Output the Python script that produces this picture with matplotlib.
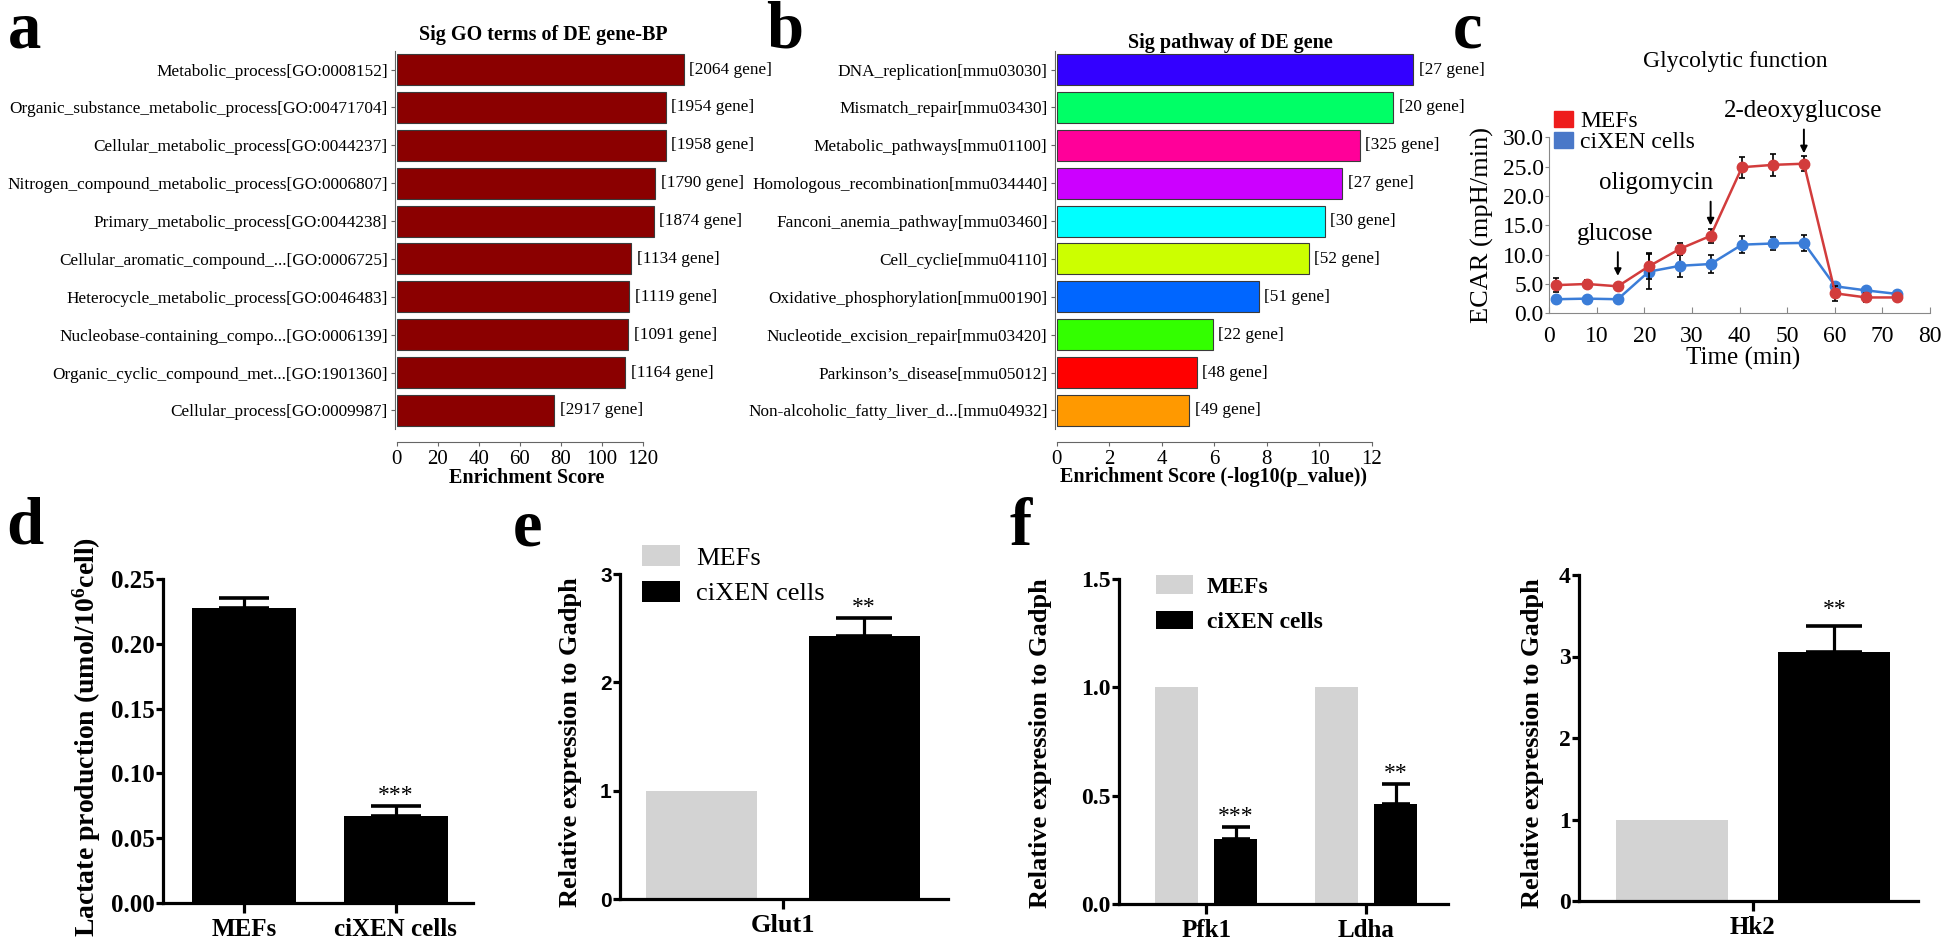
import matplotlib
matplotlib.use('Agg')
import matplotlib.pyplot as plt
from matplotlib.patches import Patch

plt.rcParams['font.family'] = ['Liberation Serif', 'DejaVu Serif']
plt.rcParams['mathtext.fontset'] = 'custom'
plt.rcParams['mathtext.rm'] = 'Liberation Serif'
plt.rcParams['mathtext.bf'] = 'Liberation Serif:bold'
SANS = ['Liberation Sans', 'DejaVu Sans']

# ---------------- data ----------------
go_terms = ["Metabolic_process[GO:0008152]",
            "Organic_substance_metabolic_process[GO:00471704]",
            "Cellular_metabolic_process[GO:0044237]",
            "Nitrogen_compound_metabolic_process[GO:0006807]",
            "Primary_metabolic_process[GO:0044238]",
            "Cellular_aromatic_compound_...[GO:0006725]",
            "Heterocycle_metabolic_process[GO:0046483]",
            "Nucleobase-containing_compo...[GO:0006139]",
            "Organic_cyclic_compound_met...[GO:1901360]",
            "Cellular_process[GO:0009987]"]
go_scores = [140.1, 131.3, 131.3, 126.3, 125.5, 114.5, 113.5, 113.0, 111.5, 77.0]
go_genes = [2064, 1954, 1958, 1790, 1874, 1134, 1119, 1091, 1164, 2917]

kegg_terms = ["DNA_replication[mmu03030]",
              "Mismatch_repair[mmu03430]",
              "Metabolic_pathways[mmu01100]",
              "Homologous_recombination[mmu034440]",
              "Fanconi_anemia_pathway[mmu03460]",
              "Cell_cyclie[mmu04110]",
              "Oxidative_phosphorylation[mmu00190]",
              "Nucleotide_excision_repair[mmu03420]",
              "Parkinson\u2019s_disease[mmu05012]",
              "Non-alcoholic_fatty_liver_d...[mmu04932]"]
kegg_scores = [13.57, 12.81, 11.54, 10.87, 10.21, 9.60, 7.70, 5.95, 5.33, 5.05]
kegg_genes = [27, 20, 325, 27, 30, 52, 51, 22, 48, 49]
kegg_colors = ['#3300FF', '#00FF66', '#FF0099', '#CC00FF', '#00FFFF',
               '#CCFF00', '#0066FF', '#33FF00', '#FF0000', '#FF9900']

time_min = [1.4, 7.9, 14.4, 20.9, 27.5, 33.9, 40.5, 47.0, 53.5, 60.1, 66.6, 73.1]
mef_ecar = [4.8, 5.0, 4.6, 8.0, 11.0, 13.2, 24.9, 25.3, 25.5, 3.4, 2.7, 2.7]
mef_err = [1.2, 0.7, 0.6, 2.2, 1.0, 1.2, 1.8, 1.9, 1.3, 1.3, 0.7, 0.4]
xen_ecar = [2.4, 2.5, 2.4, 7.1, 8.1, 8.4, 11.7, 11.9, 12.0, 4.6, 3.9, 3.3]
xen_err = [0.5, 0.5, 0.5, 3.0, 1.9, 1.6, 1.4, 1.1, 1.3, 0.5, 0.4, 0.3]

groups = ["MEFs", "ciXEN cells"]
lactate = [0.228, 0.067]
lactate_err = [0.007, 0.008]

glut1 = [1.0, 2.43]
glut1_err = [0.0, 0.16]
f_genes = ["Pfk1", "Ldha"]
f_mef = [1.0, 1.0]
f_xen = [0.30, 0.46]
f_xen_err = [0.057, 0.095]
hk2 = [1.0, 3.05]
hk2_err = [0.0, 0.33]

GRAY = '#d3d3d3'

# ---------------- figure ----------------
W, H = 1946, 946
fig = plt.figure(figsize=(W / 100, H / 100), dpi=100)
fig.patch.set_facecolor('white')


def px_axes(l, t, r, b):
    return fig.add_axes([l / W, 1 - b / H, (r - l) / W, (b - t) / H])


def ftext(x, y, s, **kw):
    return fig.text(x / W, 1 - y / H, s, **kw)


# panel letters
for letter, (x, y) in {'a': (8, 47), 'b': (766, 47), 'c': (1453, 47),
                       'd': (6, 543), 'e': (513, 545), 'f': (1010, 545)}.items():
    ftext(x, y, letter, fontsize=48, fontweight='bold', ha='left', va='baseline')


# ---------------- panels a & b ----------------
def enrich_panel(l, r, xmax, terms, scores, genes, colors, tickmax, tickstep,
                 title, title_xy, xlabel, xlabel_xy, spine_out):
    ax = px_axes(l, 50.6, r, 429.4)
    ypos = list(range(len(terms)))
    ax.barh(ypos, scores, height=0.82, color=colors, edgecolor='#3a3a3a', linewidth=0.8)
    ax.set_xlim(0, xmax)
    ax.set_ylim(len(terms) - 0.5, -0.5)
    ax.set_yticks(ypos)
    ax.set_yticklabels(terms)
    for i, (s, g) in enumerate(zip(scores, genes)):
        ax.annotate(f"[{g} gene]", xy=(s, i), xytext=(4, 0), textcoords='offset points',
                    va='center', ha='left', fontsize=12.4)
    for sp in ['top', 'right']:
        ax.spines[sp].set_visible(False)
    ax.spines['left'].set_position(('outward', 1.5))
    ax.spines['left'].set_color('#666666')
    ax.spines['bottom'].set_color('#666666')
    ax.spines['bottom'].set_position(('outward', spine_out))
    ax.spines['bottom'].set_bounds(0, tickmax)
    ax.set_xticks(list(range(0, tickmax + 1, tickstep)))
    ax.tick_params(axis='y', length=3, pad=2, labelsize=12.4, color='#666666')
    ax.tick_params(axis='x', length=3, pad=3, labelsize=15, color='#666666')
    ftext(title_xy[0], title_xy[1], title, fontsize=14.5, fontweight='bold', ha='center', va='center')
    ftext(xlabel_xy[0], xlabel_xy[1], xlabel, fontsize=14.5, fontweight='bold', ha='center', va='center')
    return ax


enrich_panel(396.7, 704, 150, go_terms, go_scores, go_genes, '#8B0000', 120, 20,
             "Sig GO terms of DE gene-BP", (543, 35), "Enrichment Score", (527, 478), 9.0)
enrich_panel(1056.6, 1477, 16, kegg_terms, kegg_scores, kegg_genes, kegg_colors, 12, 2,
             "Sig pathway of DE gene", (1230, 43), "Enrichment Score (-log10(p_value))", (1214, 477), 9.0)

# ---------------- panel c ----------------
axc = px_axes(1549.3, 137.3, 1930, 313.3)
RED, BLUE = '#d23c3c', '#3b7dd8'
axc.errorbar(time_min, xen_ecar, yerr=xen_err, color=BLUE, lw=1.8, marker='o', ms=7.5,
             mec=BLUE, ecolor='black', elinewidth=1.2, capsize=2, capthick=1.2, zorder=3)
axc.errorbar(time_min, mef_ecar, yerr=mef_err, color=RED, lw=1.8, marker='o', ms=7.5,
             mec=RED, ecolor='black', elinewidth=1.2, capsize=2, capthick=1.2, zorder=4)
axc.set_xlim(0, 80)
axc.set_ylim(0, 30)
axc.set_xticks(list(range(0, 81, 10)))
axc.set_yticks([0, 5, 10, 15, 20, 25, 30])
axc.set_yticklabels([f"{v:.1f}" for v in [0, 5, 10, 15, 20, 25, 30]])
for sp in ['top', 'right']:
    axc.spines[sp].set_visible(False)
for sp in ['left', 'bottom']:
    axc.spines[sp].set_color('#888888')
axc.tick_params(axis='x', direction='in', length=4, pad=9, labelsize=17, color='#888888')
axc.tick_params(axis='y', direction='out', length=3, pad=1, labelsize=17, color='#888888')
ftext(1735, 62, "Glycolytic function", fontsize=17, ha='center', va='center')
ftext(1743, 358, "Time (min)", fontsize=18, ha='center', va='center')
ftext(1482, 225, "ECAR (mpH/min)", fontsize=19, ha='center', va='center', rotation=90)
axc.legend(handles=[Patch(color='#ee1c1c'), Patch(color='#4a78c8')], labels=groups,
           loc='upper left', bbox_to_anchor=(1554 / W, 1 - 111 / H), bbox_transform=fig.transFigure,
           frameon=False, fontsize=17, handlelength=0.8, handleheight=0.65, handletextpad=0.3,
           labelspacing=0.0, borderpad=0, borderaxespad=0)
arrow_kw = dict(arrowstyle='-|>', color='black', lw=1.4, mutation_scale=10)
for idx, name, tx in [(2, 'glucose', 13.8), (5, 'oligomycin', 22.4), (8, '2-deoxyglucose', 53.3)]:
    tip = mef_ecar[idx] + 1.3
    axc.annotate('', xy=(time_min[idx], tip), xytext=(time_min[idx], tip + 5.0),
                 arrowprops=arrow_kw, annotation_clip=False)
    axc.text(tx, tip + 7.7, name, fontsize=18, ha='center', va='center', clip_on=False)


# ---------------- panels d, e, f ----------------
def prism_axes(l, t, r, b):
    ax = px_axes(l, t, r, b)
    for sp in ['top', 'right']:
        ax.spines[sp].set_visible(False)
    for sp in ['left', 'bottom']:
        ax.spines[sp].set_linewidth(2.3)
    ax.tick_params(axis='y', direction='out', length=5, width=2.3, pad=1)
    ax.tick_params(axis='x', direction='out', length=7, width=2.3, pad=4)
    return ax


def bold_ticklabels(ax, size_y, size_x, yfamily=None):
    for lab in ax.get_yticklabels():
        lab.set_fontweight('bold')
        lab.set_fontsize(size_y)
        if yfamily:
            lab.set_family(yfamily)
    for lab in ax.get_xticklabels():
        lab.set_fontweight('bold')
        lab.set_fontsize(size_x)


def up_err(ax, x, y, e, cap):
    ax.errorbar([x], [y], yerr=[[0], [e]], fmt='none', ecolor='black', elinewidth=2.3,
                capsize=cap, capthick=2.6, zorder=1)


# d
axd = prism_axes(163, 579, 473, 903)
axd.bar([0, 1], lactate, width=0.686, color='black', zorder=2)
for i in range(2):
    up_err(axd, i, lactate[i], lactate_err[i], 18)
axd.set_xlim(-0.535, 1.51)
axd.set_ylim(0, 0.25)
axd.set_yticks([0, 0.05, 0.10, 0.15, 0.20, 0.25])
axd.set_yticklabels([f"{v:.2f}" for v in [0, 0.05, 0.10, 0.15, 0.20, 0.25]])
axd.set_xticks([0, 1])
axd.set_xticklabels(groups)
bold_ticklabels(axd, 18, 18)
axd.annotate('***', xy=(1, lactate[1] + lactate_err[1]), xytext=(0, 0), textcoords='offset points',
             ha='center', va='bottom', fontsize=17)
ftext(87, 737, r"Lactate production (umol/$\mathbf{10^{6}}$cell)", fontsize=20, fontweight='bold',
      rotation=90, ha='center', va='center')

# e
axe = prism_axes(620, 574, 948, 899)
axe.bar([-0.5], [glut1[0]], width=0.683, color=GRAY, zorder=2, label=groups[0])
axe.bar([0.5], [glut1[1]], width=0.683, color='black', zorder=2, label=groups[1])
up_err(axe, 0.5, glut1[1], glut1_err[1], 20)
axe.set_xlim(-1.0, 1.015)
axe.set_ylim(0, 3)
axe.set_yticks([0, 1, 2, 3])
axe.set_xticks([0])
axe.set_xticklabels(["Glut1"])
bold_ticklabels(axe, 15, 19, yfamily=SANS)
axe.annotate('**', xy=(0.5, glut1[1] + glut1_err[1]), xytext=(0, 0), textcoords='offset points',
             ha='center', va='bottom', fontsize=17)
axe.legend(loc='upper left', bbox_to_anchor=(642 / W, 1 - 545 / H), bbox_transform=fig.transFigure,
           frameon=False, fontsize=19, handlelength=1.45, handleheight=0.85, handletextpad=0.6,
           labelspacing=0.42, borderpad=0, borderaxespad=0)
ftext(571, 742, "Relative expression to Gadph", fontsize=19, fontweight='bold',
      rotation=90, ha='center', va='center')

# f left
axf = prism_axes(1119, 579, 1448, 904)
gx = list(range(len(f_genes)))
axf.bar([g - 0.184 for g in gx], f_mef, width=0.27, color=GRAY, zorder=2, label=groups[0])
axf.bar([g + 0.184 for g in gx], f_xen, width=0.27, color='black', zorder=2, label=groups[1])
for g in gx:
    up_err(axf, g + 0.184, f_xen[g], f_xen_err[g], 10)
for g, stars in zip(gx, ['***', '**']):
    axf.annotate(stars, xy=(g + 0.184, f_xen[g] + f_xen_err[g]), xytext=(0, 0),
                 textcoords='offset points', ha='center', va='bottom', fontsize=17)
axf.set_xlim(-0.544, 1.51)
axf.set_ylim(0, 1.5)
axf.set_yticks([0, 0.5, 1.0, 1.5])
axf.set_yticklabels([f"{v:.1f}" for v in [0, 0.5, 1.0, 1.5]])
axf.set_xticks(gx)
axf.set_xticklabels(f_genes)
bold_ticklabels(axf, 17, 18)
leg = axf.legend(loc='upper left', bbox_to_anchor=(1156 / W, 1 - 575 / H), bbox_transform=fig.transFigure,
                 frameon=False, fontsize=17, handlelength=1.55, handleheight=0.85, handletextpad=0.6,
                 labelspacing=0.55, borderpad=0, borderaxespad=0)
for t in leg.get_texts():
    t.set_fontweight('bold')
ftext(1041, 743, "Relative expression to Gadph", fontsize=19, fontweight='bold',
      rotation=90, ha='center', va='center')

# f right
axh = prism_axes(1579, 575, 1918, 901)
axh.bar([-0.5], [hk2[0]], width=0.69, color=GRAY, zorder=2)
axh.bar([0.5], [hk2[1]], width=0.69, color='black', zorder=2)
up_err(axh, 0.5, hk2[1], hk2_err[1], 20)
axh.annotate('**', xy=(0.5, hk2[1] + hk2_err[1]), xytext=(0, 4), textcoords='offset points',
             ha='center', va='bottom', fontsize=17)
axh.set_xlim(-1.07, 1.015)
axh.set_ylim(0, 4)
axh.set_yticks([0, 1, 2, 3, 4])
axh.set_xticks([0])
axh.set_xticklabels(["Hk2"])
bold_ticklabels(axh, 17, 18)
ftext(1532, 743, "Relative expression to Gadph", fontsize=19, fontweight='bold',
      rotation=90, ha='center', va='center')

fig.savefig('out.png', dpi=100)
